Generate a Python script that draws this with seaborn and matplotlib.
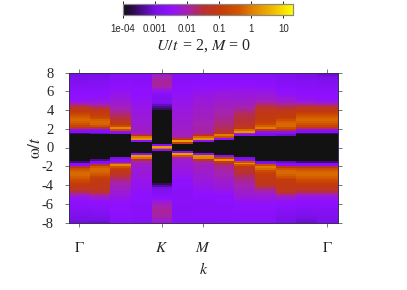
import numpy as np
import pandas as pd
import matplotlib
matplotlib.use("Agg")
import matplotlib.pyplot as plt
from matplotlib.colors import LinearSegmentedColormap, LogNorm
import seaborn as sns

# log10 of the spectral weight, rows run from omega=+8 down to -8 in steps of 0.2
col_00 = [-3.05,-3.0,-2.95,-2.9,-2.85,-2.8,-2.75,-2.7,-2.68,-2.65,-2.6,-2.6,-2.55,-2.5,-2.45,-2.3,-2.1,-1.8,-1.4,-1.2,-1.1,-0.9,-0.6,-0.35,-0.25,-0.2,-0.3,-0.5,-0.8,-1.3,-2.6,-2.8,-3.5]+[-6]*7 \
       + [-6]*7+[-3.5,-2.8,-2.6,-1.4,-0.6,-0.3,-0.2,-0.2,-0.3,-0.4,-0.6,-0.8,-1.0,-1.1,-1.2,-1.3,-1.6,-1.9,-2.1,-2.3,-2.45,-2.5,-2.55,-2.6,-2.65,-2.7,-2.75,-2.8,-2.85,-2.9,-2.95,-3.0,-3.05]
col_01 = [-3.0,-2.95,-2.9,-2.85,-2.8,-2.75,-2.7,-2.68,-2.65,-2.62,-2.6,-2.55,-2.5,-2.45,-2.4,-2.3,-2.15,-1.95,-1.7,-1.35,-1.15,-1.05,-0.95,-0.8,-0.55,-0.3,-0.2,-0.25,-0.5,-1.4,-2.6,-2.8,-3.2]+[-6]*7 \
       + [-6]*6+[-3.4,-2.8,-2.6,-1.3,-0.35,-0.2,-0.2,-0.3,-0.5,-0.8,-1.0,-1.05,-1.1,-1.1,-1.15,-1.2,-1.3,-1.4,-1.65,-1.9,-2.15,-2.3,-2.45,-2.5,-2.55,-2.6,-2.65,-2.7,-2.75,-2.8,-2.85,-2.95,-3.0,-3.1]
col_02 = [-2.7,-2.68,-2.65,-2.65,-2.62,-2.6,-2.58,-2.55,-2.5,-2.45,-2.42,-2.38,-2.34,-2.3,-2.26,-2.22,-2.18,-2.12,-2.06,-2.0,-1.9,-1.8,-1.7,-1.6,-1.5,-1.35,-1.2,-1.1,-0.6,0.15,-0.6,-2.6,-2.9]+[-6]*7 \
       + [-6]*5+[-3.0,-2.75,-2.55,-0.5,0.15,-0.4,-0.9,-1.1,-1.25,-1.4,-1.55,-1.7,-1.8,-1.9,-2.0,-2.05,-2.1,-2.15,-2.2,-2.25,-2.3,-2.35,-2.4,-2.45,-2.48,-2.5,-2.52,-2.55,-2.55,-2.58,-2.6,-2.6,-2.62,-2.62,-2.65]
col_03 = [-2.68,-2.68,-2.66,-2.65,-2.65,-2.63,-2.62,-2.6,-2.58,-2.56,-2.54,-2.52,-2.5,-2.48,-2.45,-2.42,-2.4,-2.38,-2.36,-2.34,-2.32,-2.3,-2.28,-2.26,-2.25,-2.24,-2.22,-2.2,-2.18,-2.15,-2.12,-2.1,-2.0,-1.6,-0.1,0.3,-2.6]+[-6]*3 \
       + [-6]*3+[-2.7,0.3,-0.1,-1.5,-2.0,-2.1,-2.15,-2.2,-2.22,-2.25,-2.27,-2.3,-2.32,-2.34,-2.36,-2.38,-2.4,-2.42,-2.44,-2.46,-2.48,-2.5,-2.52,-2.54,-2.56,-2.58,-2.6,-2.62,-2.62,-2.64,-2.65,-2.65,-2.66,-2.66,-2.68,-2.68,-2.68,-2.7,-2.7]
col_04 = [-2.2,-2.1,-2.0,-1.95,-1.9,-1.9,-1.9,-1.95,-2.1,-2.3,-2.5,-2.65,-2.75,-2.78,-2.8,-2.8,-3.0,-3.2,-3.4,-3.6,-4.0]+[-6]*17+[-2.7,0.4] \
       + [-0.1,-2.6]+[-6]*16+[-4.0,-3.6,-3.3,-3.0,-2.85,-2.8,-2.75,-2.7,-2.65,-2.5,-2.3,-2.15,-2.05,-2.0,-1.95,-1.9,-1.9,-1.9,-1.95,-2.05,-2.15,-2.2]
col_05 = [-2.7,-2.68,-2.66,-2.65,-2.63,-2.6,-2.58,-2.55,-2.52,-2.5,-2.48,-2.45,-2.43,-2.41,-2.4,-2.38,-2.36,-2.34,-2.32,-2.3,-2.28,-2.26,-2.25,-2.24,-2.22,-2.2,-2.2,-2.18,-2.16,-2.14,-2.12,-2.1,-2.08,-2.05,-1.9,-1.3,0.4,-1.0]+[-6]*2 \
       + [-6]*2+[-2.6,0.4,-0.4,-2.0,-2.15,-2.2,-2.22,-2.25,-2.28,-2.3,-2.33,-2.36,-2.4,-2.43,-2.46,-2.5,-2.52,-2.55,-2.58,-2.6,-2.62,-2.63,-2.64,-2.65,-2.65,-2.66,-2.66,-2.67,-2.67,-2.68,-2.68,-2.68,-2.69,-2.7,-2.7,-2.7,-2.7,-2.7]
col_06 = [-2.68,-2.66,-2.64,-2.62,-2.6,-2.58,-2.55,-2.5,-2.47,-2.44,-2.4,-2.36,-2.33,-2.3,-2.27,-2.24,-2.22,-2.2,-2.18,-2.16,-2.14,-2.12,-2.1,-2.08,-2.06,-2.05,-2.03,-2.0,-1.98,-1.96,-1.95,-1.92,-1.85,-1.45,-0.2,0.3,-2.6]+[-6]*3 \
       + [-6]*3+[-2.7,0.2,0.1,-1.3,-1.9,-2.0,-2.05,-2.1,-2.12,-2.15,-2.17,-2.2,-2.22,-2.25,-2.28,-2.3,-2.33,-2.36,-2.4,-2.44,-2.48,-2.52,-2.55,-2.58,-2.6,-2.62,-2.62,-2.64,-2.65,-2.65,-2.66,-2.66,-2.67,-2.68,-2.68,-2.68,-2.7,-2.7,-2.7]
col_07 = [-2.68,-2.66,-2.64,-2.62,-2.6,-2.58,-2.55,-2.5,-2.45,-2.4,-2.35,-2.3,-2.27,-2.24,-2.2,-2.17,-2.14,-2.1,-2.07,-2.03,-2.0,-1.97,-1.93,-1.9,-1.87,-1.85,-1.8,-1.75,-1.7,-1.65,-1.55,-1.4,-1.1,0.0,-0.5,-2.6]+[-6]*4 \
       + [-6]*4+[-2.7,-0.8,0.3,-1.0,-1.6,-1.75,-1.85,-1.9,-1.95,-2.0,-2.03,-2.06,-2.1,-2.14,-2.18,-2.22,-2.26,-2.3,-2.35,-2.4,-2.45,-2.5,-2.53,-2.56,-2.58,-2.6,-2.62,-2.63,-2.64,-2.65,-2.65,-2.66,-2.66,-2.67,-2.68,-2.68]
col_08 = [-2.68,-2.66,-2.64,-2.62,-2.6,-2.56,-2.52,-2.47,-2.42,-2.38,-2.34,-2.3,-2.26,-2.22,-2.18,-2.14,-2.1,-2.05,-2.0,-1.9,-1.8,-1.7,-1.6,-1.55,-1.5,-1.5,-1.45,-1.4,-1.3,-1.1,-0.2,0.3,-2.0,-2.7]+[-6]*6 \
       + [-6]*5+[-3.0,-2.7,-0.5,0.2,-0.5,-1.1,-1.3,-1.4,-1.5,-1.6,-1.7,-1.8,-1.85,-1.9,-1.95,-2.0,-2.05,-2.1,-2.15,-2.2,-2.25,-2.3,-2.35,-2.4,-2.45,-2.5,-2.52,-2.55,-2.58,-2.6,-2.62,-2.62,-2.64,-2.65]+[-2.65]
col_09 = [-2.7,-2.68,-2.66,-2.64,-2.62,-2.58,-2.54,-2.5,-2.45,-2.4,-2.35,-2.3,-2.25,-2.2,-2.1,-2.0,-1.85,-1.65,-1.45,-1.3,-1.2,-1.15,-1.1,-1.1,-1.05,-1.0,-0.9,-0.75,-0.3,0.0,-1.0,-2.6,-2.8,-3.0]+[-6]*6 \
       + [-6]*7+[-3.0,-2.7,-0.6,0.0,-0.2,-0.6,-0.9,-1.0,-1.05,-1.1,-1.1,-1.15,-1.2,-1.4,-1.65,-1.9,-2.05,-2.15,-2.25,-2.3,-2.35,-2.4,-2.45,-2.5,-2.52,-2.55,-2.58,-2.6,-2.62,-2.62,-2.64,-2.65]+[-2.65]
col_10 = [-2.85,-2.82,-2.8,-2.78,-2.75,-2.72,-2.7,-2.65,-2.6,-2.55,-2.5,-2.45,-2.4,-2.3,-2.2,-2.1,-1.95,-1.8,-1.6,-1.35,-1.2,-1.1,-1.05,-1.0,-0.85,-0.6,-0.3,-0.2,-0.2,-0.5,-1.2,-2.6,-2.75,-3.1]+[-6]*6 \
       + [-6]*7+[-3.2,-2.8,-2.6,-1.1,-0.4,-0.2,-0.2,-0.3,-0.5,-0.8,-1.0,-1.05,-1.1,-1.1,-1.15,-1.2,-1.3,-1.6,-1.9,-2.15,-2.3,-2.45,-2.5,-2.55,-2.6,-2.65,-2.7,-2.75,-2.8,-2.85,-2.9,-2.95]
col_11 = [-2.95,-2.92,-2.9,-2.85,-2.8,-2.75,-2.7,-2.68,-2.65,-2.62,-2.6,-2.55,-2.5,-2.45,-2.4,-2.25,-2.05,-1.75,-1.4,-1.2,-1.1,-0.9,-0.6,-0.35,-0.25,-0.2,-0.3,-0.5,-0.8,-1.3,-2.6,-2.8,-3.5]+[-6]*7 \
       + [-6]*7+[-3.5,-2.8,-2.6,-1.4,-0.6,-0.3,-0.2,-0.2,-0.3,-0.4,-0.6,-0.8,-1.0,-1.1,-1.2,-1.3,-1.6,-1.9,-2.1,-2.3,-2.45,-2.5,-2.55,-2.6,-2.65,-2.7,-2.75,-2.8,-2.85,-2.95,-3.0,-3.05,-3.1]
col_12 = [-3.15,-3.1,-3.0,-2.95,-2.85,-2.8,-2.75,-2.7,-2.68,-2.65,-2.6,-2.6,-2.55,-2.5,-2.45,-2.3,-2.1,-1.8,-1.4,-1.2,-1.1,-0.9,-0.6,-0.35,-0.25,-0.2,-0.3,-0.5,-0.8,-1.3,-2.6,-2.8,-3.5]+[-6]*7 \
       + [-6]*7+[-3.5,-2.8,-2.6,-1.4,-0.6,-0.3,-0.2,-0.2,-0.3,-0.4,-0.6,-0.8,-1.0,-1.1,-1.2,-1.3,-1.6,-1.9,-2.1,-2.3,-2.45,-2.5,-2.55,-2.6,-2.65,-2.7,-2.75,-2.8,-2.82,-2.85,-2.88,-2.9,-2.95]

columns = [col_00, col_01, col_02, col_03, col_04, col_05, col_06,
           col_07, col_08, col_09, col_10, col_11, col_12]
for c in columns:
    del c[80:]
    c.extend([c[-1]] * (80 - len(c)))
omega_top = [8 - 0.2 * i for i in range(80)]
k_ticks = [0, 4, 6, 12]
k_labels = [r"$\Gamma$", r"$K$", r"$M$", r"$\Gamma$"]
omega_ticks = [8, 6, 4, 2, 0, -2, -4, -6, -8]
cbar_ticks = [1e-4, 1e-3, 1e-2, 1e-1, 1, 10]
cbar_labels = ["1e-04", "0.001", "0.01", "0.1", "1", "10"]

W, H = 407, 290
sns.set_style("white")
plt.rcParams["font.family"] = ["Liberation Serif"]
plt.rcParams["mathtext.fontset"] = "stix"

colors = [(0.00, "#121212"), (0.05, "#2a0a44"), (0.12, "#4f0c98"), (0.19, "#7a10e8"),
          (0.28, "#9010ff"), (0.38, "#a522b0"), (0.47, "#b83038"), (0.57, "#c43c08"),
          (0.68, "#d05400"), (0.76, "#e08000"), (0.88, "#f0b800"), (1.00, "#ffff00")]
cmap = LinearSegmentedColormap.from_list("spec", colors, N=512)
cmap.set_under("#121212")

frame = pd.DataFrame(10.0 ** np.array(columns).T, index=omega_top, columns=range(13))

fig = plt.figure(figsize=(W / 100, H / 100), dpi=100)
ax = fig.add_axes([69 / W, 1 - 222.5 / H, 268.5 / W, 150 / H])
cax = fig.add_axes([123 / W, 1 - 15 / H, 170 / W, 11 / H])

sns.heatmap(frame, ax=ax, cmap=cmap, norm=LogNorm(vmin=1e-4, vmax=20), cbar_ax=cax,
            cbar_kws={"orientation": "horizontal"}, xticklabels=False, yticklabels=False)

ax.set_xticks([k + 0.5 for k in k_ticks])
ax.set_xticklabels(k_labels, fontsize=11, rotation=0)
ax.set_yticks([(8 - o) / 0.2 for o in omega_ticks])
ax.set_yticklabels([str(o) for o in omega_ticks], fontsize=10.5, rotation=0)
ax.tick_params(axis="both", direction="out", length=3, width=0.7, color="#777777",
               top=True, right=True, bottom=True, left=True)
ax.tick_params(axis="x", pad=10)
ax.tick_params(axis="y", pad=8)
for s in ax.spines.values():
    s.set_visible(True)
    s.set_linewidth(0.7)
    s.set_color("#3a2a5a")
ax.set_xlabel(r"$k$", fontsize=11.5, labelpad=5)
ax.set_ylabel(r"$\mathrm{\omega}/t$", fontsize=12.5, labelpad=-2)

cax.set_xticks(cbar_ticks)
cax.set_xticklabels(cbar_labels, family="Liberation Sans", fontsize=7)
cax.minorticks_off()
cax.tick_params(axis="x", direction="inout", length=4, width=0.6, color="black",
                top=True, bottom=True, pad=4.5)
for s in cax.spines.values():
    s.set_visible(True)
    s.set_linewidth(0.8)
    s.set_color("#888888")

fig.text(204 / W, 1 - 46 / H, r"$U/t\,$ = 2, $M$ = 0", ha="center", va="center", fontsize=11.5)
fig.savefig("out.png", dpi=100)
